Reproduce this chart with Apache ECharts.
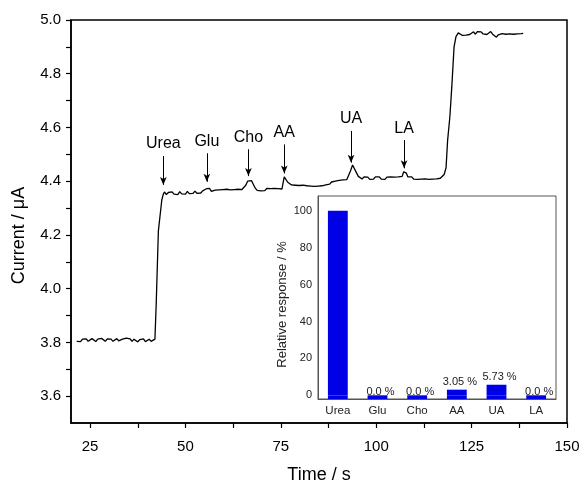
<!DOCTYPE html>
<html>
<head>
<meta charset="utf-8">
<script src="https://cdn.jsdelivr.net/npm/echarts@6/dist/echarts.min.js"></script>
<style>
html,body{margin:0;padding:0;background:#fff;}
#c{width:580px;height:484px;}
</style>
</head>
<body>
<div id="c"></div>
<script>
// ---- main trace: [time (s), current (uA)] ----
const baseline0 = [[21.5,3.804],[22,3.811],[22.5,3.803],[23,3.812],[23.5,3.806],[24,3.813],[24.5,3.804],[25,3.810],[25.5,3.814],[26,3.807],[26.5,3.803],[27,3.812],[27.5,3.806],[28,3.815],[28.5,3.809],[29,3.804],[29.5,3.813],[30,3.807],[30.5,3.812],[31,3.804],[31.5,3.810],[32,3.814],[32.5,3.806],[33,3.803],[33.5,3.812],[34,3.807],[34.5,3.816],[35,3.809],[35.5,3.813],[36,3.804],[36.5,3.812],[37,3.806],[37.5,3.802],[38,3.810],[38.5,3.804],[39,3.813],[39.5,3.803],[40,3.808],[40.5,3.812],[41,3.804],[41.5,3.810],[42,3.812]];
const ureaStep = [[42.2,3.812],[42.35,3.95],[42.9,4.215],[43.8,4.33],[44.2,4.352],[44.5,4.360],[45,4.350],[45.5,4.358],[46,4.351],[46.5,4.360],[47,4.352],[47.5,4.358],[48,4.350],[48.5,4.361],[49,4.353],[49.5,4.360],[50,4.352],[50.5,4.362],[51,4.354],[51.5,4.361],[52,4.355],[52.5,4.363],[53,4.355],[53.5,4.362],[54,4.356],[54.5,4.364],[55,4.363]];
const gluCho = [[55.5,4.372],[55.9,4.379],[56.3,4.373],[56.8,4.362],[57.3,4.359],[57.8,4.367],[58.3,4.360],[58.8,4.368],[59.3,4.361],[59.8,4.369],[60.3,4.362],[60.8,4.370],[61.3,4.363],[61.8,4.368],[62.3,4.361],[62.8,4.369],[63.3,4.363],[63.8,4.370],[64.3,4.364],[64.8,4.369],[65.3,4.371],[65.8,4.385],[66.3,4.400],[66.8,4.406],[67.3,4.402],[67.8,4.388],[68.3,4.374],[68.8,4.366],[69.3,4.372],[69.8,4.364],[70.3,4.371],[70.8,4.365],[71.3,4.373],[71.8,4.366],[72.3,4.372],[72.8,4.365],[73.3,4.373],[73.8,4.367],[74.3,4.372],[74.8,4.366],[75.3,4.371]];
const aaUa = [[75.6,4.395],[75.9,4.416],[76.3,4.410],[76.8,4.396],[77.3,4.391],[77.8,4.386],[78.3,4.393],[78.8,4.385],[79.3,4.392],[79.8,4.384],[80.3,4.391],[80.8,4.385],[81.3,4.390],[81.8,4.383],[82.3,4.389],[82.8,4.382],[83.3,4.388],[83.8,4.381],[84.3,4.387],[84.8,4.382],[85.3,4.389],[85.8,4.383],[86.3,4.390],[86.8,4.386],[87.3,4.393],[87.8,4.389],[88.3,4.397],[88.8,4.393],[89.3,4.400],[89.8,4.396],[90.3,4.403],[90.8,4.398],[91.3,4.405],[91.8,4.400],[92.3,4.406],[92.8,4.410],[93.3,4.440],[93.8,4.460],[94.3,4.455],[94.8,4.432],[95.3,4.418]];
const laSegment = [[95.8,4.415],[96.3,4.408],[96.8,4.416],[97.3,4.409],[97.8,4.415],[98.3,4.407],[98.8,4.414],[99.3,4.408],[99.8,4.416],[100.3,4.409],[100.8,4.416],[101.3,4.408],[101.8,4.414],[102.3,4.407],[102.8,4.415],[103.3,4.409],[103.8,4.416],[104.3,4.410],[104.8,4.415],[105.3,4.409],[105.8,4.416],[106.3,4.412],[106.8,4.418],[107.2,4.435],[107.5,4.442],[107.9,4.430],[108.3,4.416],[108.8,4.410],[109.3,4.416],[109.8,4.408],[110.3,4.414],[110.8,4.407],[111.3,4.414],[111.8,4.408],[112.3,4.415],[112.8,4.409],[113.3,4.414],[113.8,4.407],[114.3,4.413],[114.8,4.408],[115.3,4.414],[115.8,4.409],[116.3,4.415],[116.8,4.411],[117.3,4.416]];
const finalStep = [[117.8,4.425],[118.3,4.45],[118.7,4.55],[119.3,4.64],[119.8,4.75],[120.4,4.90],[120.9,4.938],[121.5,4.952],[122,4.947],[122.5,4.943],[123,4.938],[123.5,4.944],[124,4.937],[124.5,4.946],[125,4.951],[125.5,4.956],[126,4.947],[126.5,4.957],[127,4.950],[127.5,4.956],[128,4.948],[128.5,4.955],[129,4.946],[129.5,4.953],[130,4.957],[130.5,4.947],[131,4.942],[131.5,4.936],[132,4.945],[132.5,4.940],[133,4.949],[133.5,4.953],[134,4.947],[134.5,4.953],[135,4.948],[135.5,4.952],[136,4.947],[136.5,4.953],[137,4.948],[137.5,4.952],[138,4.949],[138.5,4.950]];

// ---- axis ticks ----
const xTickLabels = [25, 50, 75, 100, 125, 150];
const xTicks = [25, 37.5, 50, 62.5, 75, 87.5, 100, 112.5, 125, 137.5, 150];
const yTickLabels = [3.6, 3.8, 4.0, 4.2, 4.4, 4.6, 4.8, 5.0];
const yTicks = [3.6, 3.7, 3.8, 3.9, 4.0, 4.1, 4.2, 4.3, 4.4, 4.5, 4.6, 4.7, 4.8, 4.9, 5.0];

// ---- annotations (analyte additions) ----
const annNames = ['Urea', 'Glu', 'Cho', 'AA', 'UA', 'LA'];
const annTime = [44.2, 55.6, 66.5, 75.9, 93.4, 107.3];
const annTail = [4.494, 4.504, 4.519, 4.537, 4.587, 4.553];
const annTip = [4.386, 4.398, 4.419, 4.429, 4.469, 4.448];

// ---- inset bar chart ----
const insetCats = ['Urea', 'Glu', 'Cho', 'AA', 'UA', 'LA'];
const insetValues = [100, 0.0, 0.0, 3.05, 5.73, 0.0];
const insetLabels = ['', '0.0 %', '0.0 %', '3.05 %', '5.73 %', '0.0 %'];
const insetYTickLabels = [0, 20, 40, 60, 80, 100];
const insetYTicks = [0, 10, 20, 30, 40, 50, 60, 70, 80, 90, 100];
const INSET_MIN = -2, INSET_MAX = 108;

const trace = [].concat(baseline0, ureaStep, gluCho, aaUa, laSegment, finalStep);
const FONT = '"Liberation Sans", Arial, sans-serif';

const chart = echarts.init(document.getElementById('c'), null, {renderer: 'canvas'});
chart.setOption({
  animation: false,
  backgroundColor: '#fff',
  textStyle: {fontFamily: FONT},
  grid: [
    {left: 71, top: 20, right: 13, bottom: 61, show: true, borderColor: '#000', borderWidth: 1.5,
      backgroundColor: 'transparent', containLabel: false, outerBoundsMode: 'none'},
    {left: 318, top: 196, width: 238, height: 203, show: true, borderColor: '#555', borderWidth: 1,
      backgroundColor: '#fff', z: 5, containLabel: false, outerBoundsMode: 'none'}
  ],
  xAxis: [
    {
      type: 'value', gridIndex: 0, min: 20, max: 150,
      name: 'Time / s', nameLocation: 'middle', nameGap: 43,
      nameTextStyle: {fontSize: 18, color: '#000', fontFamily: FONT},
      axisLine: {onZero: false, lineStyle: {color: '#000', width: 1.5}},
      axisTick: {customValues: xTicks, length: 5, lineStyle: {color: '#000', width: 1.2}},
      axisLabel: {customValues: xTickLabels, fontSize: 15, color: '#000', margin: 16},
      splitLine: {show: false}
    },
    {
      type: 'category', gridIndex: 1, data: insetCats,
      axisLine: {onZero: false, lineStyle: {color: '#555', width: 1}},
      axisTick: {show: false},
      axisLabel: {fontSize: 11.5, color: '#222', margin: 6, fontFamily: FONT},
      z: 6
    }
  ],
  yAxis: [
    {
      type: 'value', gridIndex: 0, min: 3.5, max: 5.0,
      name: 'Current / μA', nameLocation: 'middle', nameGap: 43,
      nameTextStyle: {fontSize: 18, color: '#000', fontFamily: FONT, padding: [0, 28, 0, 0]},
      axisLine: {onZero: false, lineStyle: {color: '#000', width: 1.5}},
      axisTick: {customValues: yTicks, length: 5, lineStyle: {color: '#000', width: 1.2}},
      axisLabel: {customValues: yTickLabels, fontSize: 15, color: '#000', margin: 10,
        formatter: v => Number(v).toFixed(1)},
      splitLine: {show: false}
    },
    {
      type: 'value', gridIndex: 1, min: INSET_MIN, max: INSET_MAX,
      name: 'Relative response / %', nameLocation: 'middle', nameGap: 29,
      nameTextStyle: {fontSize: 13, color: '#222', fontFamily: FONT, padding: [0, 14, 0, 0]},
      axisLine: {show: true, onZero: false, lineStyle: {color: '#555', width: 1}},
      axisTick: {customValues: insetYTicks, length: 3, lineStyle: {color: '#555'}},
      axisLabel: {customValues: insetYTickLabels, fontSize: 11, color: '#222', margin: 6},
      splitLine: {show: false},
      z: 6
    }
  ],
  series: [
    {
      type: 'line', xAxisIndex: 0, yAxisIndex: 0, data: trace,
      showSymbol: false, symbol: 'none',
      lineStyle: {color: '#000', width: 1.3}, z: 3,
      markLine: {
        silent: true, animation: false,
        symbol: ['none', 'arrow'], symbolSize: [5, 8],
        lineStyle: {color: '#000', width: 1, type: 'solid'},
        label: {show: true, position: 'start', distance: 4, fontSize: 16, color: '#000', fontFamily: FONT,
          formatter: p => p.name},
        data: annNames.map((n, i) => [
          {name: n, coord: [annTime[i], annTail[i]]},
          {coord: [annTime[i], annTip[i]]}
        ])
      }
    },
    {
      type: 'bar', xAxisIndex: 1, yAxisIndex: 1, stack: 'rel', barWidth: '50%',
      data: insetCats.map(() => INSET_MIN),
      itemStyle: {color: '#0000e6'}, z: 7, silent: true
    },
    {
      type: 'bar', xAxisIndex: 1, yAxisIndex: 1, stack: 'rel', barWidth: '50%',
      data: insetValues,
      itemStyle: {color: '#0000e6'}, z: 7, silent: true,
      label: {show: true, position: 'top', distance: 2, offset: [3, 0], fontSize: 11, color: '#222',
        fontFamily: FONT, formatter: p => insetLabels[p.dataIndex]}
    }
  ]
});
</script>
</body>
</html>
